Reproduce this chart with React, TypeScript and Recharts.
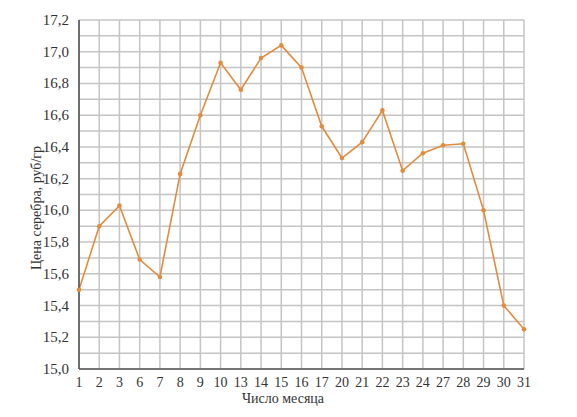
import React from 'react';
import { LineChart, Line, XAxis, YAxis, CartesianGrid, Label } from 'recharts';

const days = ['1', '2', '3', '6', '7', '8', '9', '10', '13', '14', '15', '16', '17', '20', '21', '22', '23', '24', '27', '28', '29', '30', '31'];
const prices = [15.5, 15.9, 16.03, 15.69, 15.58, 16.23, 16.6, 16.93, 16.76, 16.96, 17.04, 16.9, 16.53, 16.33, 16.43, 16.63, 16.25, 16.36, 16.41, 16.42, 16.0, 15.4, 15.25];
const yTicks = [15.0, 15.1, 15.2, 15.3, 15.4, 15.5, 15.6, 15.7, 15.8, 15.9, 16.0, 16.1, 16.2, 16.3, 16.4, 16.5, 16.6, 16.7, 16.8, 16.9, 17.0, 17.1, 17.2];
const xTicks = days.map((_, i) => i);

const data = days.map((d, i) => ({ idx: i, day: d, price: prices[i] }));

const FONT = '"Liberation Serif", "DejaVu Serif", serif';

const YTick = (props: any) => {
  const { x, y, payload } = props;
  const k = Math.round(payload.value * 10);
  if (k % 2 !== 0) return <g />;
  return (
    <text x={x} y={y} dy={5} textAnchor="end" fill="#333" fontSize={15} fontFamily={FONT}>
      {(k / 10).toFixed(1).replace('.', ',')}
    </text>
  );
};

export default function App() {
  return (
    <div style={{ position: 'absolute', left: 0, top: 0 }}>
      <LineChart width={577} height={417} data={data} margin={{ top: 20, right: 53, bottom: 0, left: 0 }}>
        <CartesianGrid stroke="#c4c4c4" strokeWidth={1.5} />
        <XAxis
          type="number"
          dataKey="idx"
          domain={[0, 22]}
          ticks={xTicks}
          interval={0}
          allowDecimals={false}
          tickFormatter={(i: number) => days[i] ?? ''}
          height={48}
          tickLine={false}
          axisLine={{ stroke: '#555', strokeWidth: 1.6 }}
          tick={{ fill: '#333', fontSize: 14, fontFamily: FONT }}
          tickMargin={2}
        >
          <Label
            content={() => (
              <text x={283} y={403} textAnchor="middle" fill="#333" fontSize={14} fontFamily={FONT}>
                Число месяца
              </text>
            )}
          />
        </XAxis>
        <YAxis
          width={79}
          type="number"
          domain={[15, 17.2]}
          ticks={yTicks}
          interval={0}
          tickLine={false}
          axisLine={{ stroke: '#555', strokeWidth: 1.6 }}
          tick={<YTick />}
          tickMargin={4}
        >
          <Label
            content={() => (
              <text
                x={0}
                y={0}
                transform="translate(41,208) rotate(-90)"
                textAnchor="middle"
                fill="#333"
                fontSize={14}
                fontFamily={FONT}
              >
                Цена серебра, руб/гр
              </text>
            )}
          />
        </YAxis>
        <Line
          type="linear"
          dataKey="price"
          stroke="#E38B3C"
          strokeWidth={1.6}
          dot={{ r: 2.3, fill: '#E38B3C', stroke: 'none' }}
          isAnimationActive={false}
        />
      </LineChart>
    </div>
  );
}
